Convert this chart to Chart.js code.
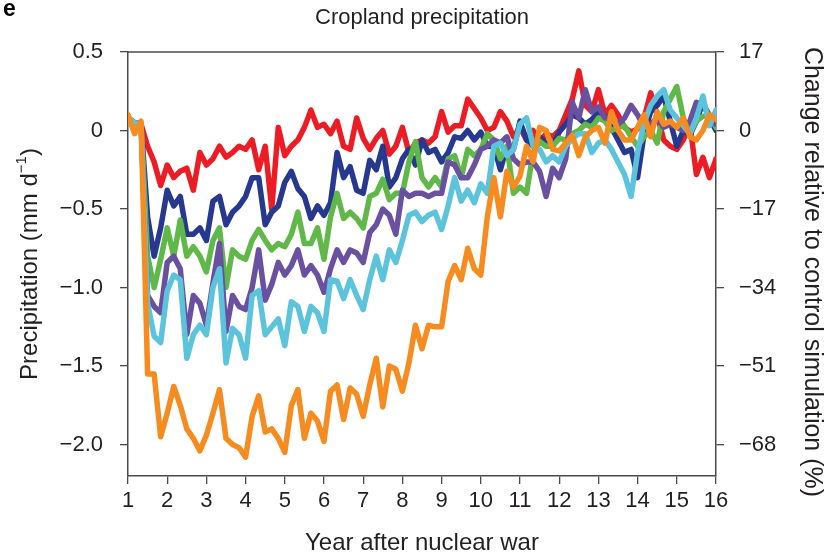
<!DOCTYPE html>
<html>
<head>
<meta charset="utf-8">
<script src="https://cdn.jsdelivr.net/npm/chart.js@4.4.1/dist/chart.umd.min.js"></script>
<style>
  html, body { margin: 0; padding: 0; background: #fff; }
  #wrap { width: 827px; height: 554px; }
</style>
</head>
<body>
<div id="wrap"><canvas id="precipChart" width="827" height="554"></canvas></div>
<script>
const FONT = "'Liberation Sans', Arial, Helvetica, sans-serif";
const INK = "#231f20";
const FRAME = "#4a4a4a";

// axis ticks
const yearTicks = [1, 2, 3, 4, 5, 6, 7, 8, 9, 10, 11, 12, 13, 14, 15, 16];
const precipTicks = [0.5, 0, -0.5, -1.0, -1.5, -2.0];
const precipTickLabels = ["0.5", "0", "\u22120.5", "\u22121.0", "\u22121.5", "\u22122.0"];
const changeTicks = [17, 0, -17, -34, -51, -68];
const changeTickLabels = ["17", "0", "\u221217", "\u221234", "\u221251", "\u221268"];

// series sampled every 2 months, starting at year 1 (mm/day anomaly)
const firstYear = 1;
const samplesPerYear = 6;

const red = [
  0.08, 0.05, 0.04, -0.10, -0.20, -0.35,
  -0.22, -0.30, -0.26, -0.24, -0.38, -0.14,
  -0.22, -0.18, -0.10, -0.17, -0.14, -0.10,
  -0.12, -0.06, -0.25, -0.10, -0.50, 0.02,
  -0.16, -0.10, -0.06, 0.02, 0.13, 0.02,
  0.04, -0.02, 0.06, -0.10, -0.12, 0.08,
  -0.05, -0.12, -0.05, 0.00, -0.15, -0.10,
  0.02, -0.14, -0.08, -0.06, -0.08, -0.04,
  0.12, -0.01, 0.03, 0.03, 0.20, 0.14,
  0.08, 0.00, 0.02, 0.12, 0.06, -0.04,
  0.02, -0.06, 0.00, -0.08, -0.02, -0.04,
  0.00, 0.10, 0.20, 0.38, 0.16, 0.12,
  0.26, 0.10, 0.16, 0.10, 0.02, -0.01,
  0.01, 0.08, 0.24, 0.10, -0.06, -0.10,
  -0.12, -0.06, 0.04, -0.28, -0.17, -0.30,
  -0.18
];

const blue = [
  0.08, 0.05, 0.04, -0.55, -0.80, -0.62,
  -0.38, -0.48, -0.42, -0.66, -0.66, -0.62,
  -0.70, -0.45, -0.42, -0.60, -0.52, -0.48,
  -0.42, -0.30, -0.30, -0.60, -0.52, -0.48,
  -0.33, -0.26, -0.37, -0.42, -0.56, -0.48,
  -0.54, -0.46, -0.14, -0.30, -0.23, -0.38,
  -0.40, -0.19, -0.25, -0.10, -0.36, -0.30,
  -0.18, -0.12, -0.22, -0.06, -0.14, -0.12,
  -0.20, -0.14, -0.04, -0.05, 0.00, -0.06,
  -0.01, -0.10, -0.10, -0.25, -0.10, -0.12,
  0.06, -0.06, -0.10, -0.04, -0.08, -0.10,
  -0.01, 0.04, 0.10, 0.08, 0.04, 0.07,
  0.12, 0.09, 0.02, -0.06, -0.14, -0.12,
  -0.30, -0.02, 0.12, 0.16, 0.22, 0.06,
  -0.10, 0.00, -0.03, 0.06, 0.18, 0.08,
  0.00
];

const green = [
  0.08, 0.05, 0.04, -0.80, -1.00, -0.82,
  -0.62, -0.80, -0.57, -0.80, -0.74, -0.80,
  -0.90, -0.70, -0.62, -1.00, -0.76, -0.80,
  -0.82, -0.70, -0.63, -0.70, -0.76, -0.72,
  -0.74, -0.66, -0.52, -0.72, -0.72, -0.62,
  -0.82, -0.55, -0.40, -0.56, -0.52, -0.56,
  -0.62, -0.42, -0.40, -0.31, -0.44, -0.40,
  -0.40, -0.20, -0.07, -0.30, -0.36, -0.30,
  -0.36, -0.18, -0.16, -0.30, -0.12, -0.16,
  -0.12, -0.02, -0.06, -0.18, -0.10, -0.40,
  -0.36, -0.40, -0.14, -0.07, -0.10, -0.10,
  -0.05, -0.06, -0.02, 0.00, 0.04, 0.02,
  0.08, 0.06, 0.00, 0.02, 0.03, -0.04,
  -0.10, -0.04, 0.00, -0.08, 0.12, 0.20,
  0.28, 0.08, -0.02, 0.06, 0.09, 0.10,
  0.02
];

const purple = [
  0.08, 0.05, 0.04, -1.05, -1.12, -1.16,
  -0.84, -0.80, -0.88, -1.30, -1.05, -1.10,
  -1.24, -0.97, -0.72, -1.28, -1.05, -1.12,
  -1.14, -1.00, -0.76, -1.08, -0.98, -0.84,
  -0.92, -0.86, -0.76, -0.92, -0.86, -0.92,
  -1.03, -0.88, -0.76, -0.84, -0.76, -0.78,
  -0.84, -0.65, -0.60, -0.50, -0.54, -0.66,
  -0.38, -0.42, -0.40, -0.40, -0.42, -0.40,
  -0.40, -0.20, -0.22, -0.30, -0.30, -0.22,
  -0.12, -0.10, -0.06, -0.08, -0.04, -0.18,
  -0.22, -0.20, -0.20, -0.26, -0.42, -0.24,
  -0.30, -0.18, 0.18, 0.08, 0.26, 0.12,
  0.15, 0.08, 0.08, 0.04, 0.08, 0.16,
  0.10, 0.02, 0.04, 0.08, 0.02, 0.04,
  0.02, 0.00, 0.06, 0.18, 0.16, 0.10,
  0.04
];

const cyan = [
  0.08, 0.05, 0.04, -1.10, -1.31, -1.35,
  -1.02, -0.92, -0.95, -1.45, -1.30, -1.24,
  -1.30, -1.00, -0.88, -1.48, -1.26, -1.30,
  -1.45, -1.05, -1.02, -1.30, -1.25, -1.20,
  -1.37, -1.09, -1.12, -1.28, -1.12, -1.16,
  -1.28, -0.95, -0.96, -1.07, -0.95, -1.05,
  -1.14, -0.95, -0.80, -0.95, -0.76, -0.84,
  -0.70, -0.54, -0.52, -0.58, -0.54, -0.52,
  -0.63, -0.48, -0.30, -0.45, -0.38, -0.46,
  -0.34, -0.40, -0.10, -0.08, -0.16, -0.12,
  0.04, 0.08, -0.10, -0.12, -0.20, -0.16,
  -0.20, -0.10, -0.05, -0.02, -0.02, -0.14,
  -0.08, -0.06, -0.12, -0.20, -0.28, -0.42,
  -0.14, 0.05, 0.16, 0.22, 0.26, 0.13,
  0.08, 0.03, -0.02, 0.08, 0.22, 0.03,
  0.13
];

const orange = [
  0.10, -0.02, 0.06, -1.55, -1.55, -1.95,
  -1.80, -1.63, -1.75, -1.90, -1.96, -2.04,
  -1.94, -1.80, -1.65, -1.96, -2.00, -2.02,
  -2.08, -1.82, -1.69, -1.92, -1.90, -1.96,
  -2.05, -1.75, -1.65, -1.96, -1.80, -1.85,
  -1.98, -1.66, -1.62, -1.84, -1.64, -1.68,
  -1.82, -1.62, -1.45, -1.76, -1.50, -1.52,
  -1.66, -1.48, -1.24, -1.39, -1.24, -1.25,
  -1.25, -0.96, -0.86, -0.95, -0.75, -0.88,
  -0.92, -0.55, -0.30, -0.55, -0.26, -0.36,
  -0.29, -0.10, -0.20, 0.02, 0.00, -0.12,
  -0.13, -0.08, -0.03, -0.16, -0.04, 0.00,
  0.02, -0.08, 0.12, 0.00, -0.06, -0.06,
  0.02, 0.10, -0.04, 0.12, 0.04, 0.06,
  0.02, 0.08, -0.04, -0.06, 0.00, 0.10,
  0.07
];

// control-relative scale: 0.5 mm/day <-> 17 %
const pctPerMm = 34;
const yMin = -2.2, yMax = 0.5;

function toPoints(vals) {
  return vals.map((v, i) => ({ x: firstYear + i / samplesPerYear, y: v }));
}

// higher "order" is painted first, so orange (order 0) ends up on top
function series(vals, color, order) {
  return { data: toPoints(vals), borderColor: color, backgroundColor: color, yAxisID: "y", order };
}

function setTicks(list) {
  return scale => { scale.ticks = list.map(v => ({ value: v })); };
}

// title, panel letter, axis titles and top frame line
const decorations = {
  id: "decorations",
  afterDraw(chart) {
    const ctx = chart.ctx;
    const a = chart.chartArea;
    ctx.save();

    ctx.strokeStyle = FRAME;
    ctx.lineWidth = 1.5;
    ctx.beginPath();
    ctx.moveTo(a.left, a.top);
    ctx.lineTo(a.right, a.top);
    ctx.stroke();

    ctx.fillStyle = "#000";
    ctx.font = "bold 23px " + FONT;
    ctx.textAlign = "left";
    ctx.textBaseline = "alphabetic";
    ctx.fillText("e", 3, 16);

    ctx.fillStyle = INK;
    ctx.font = "22px " + FONT;
    ctx.textAlign = "center";
    ctx.fillText("Cropland precipitation", (a.left + a.right) / 2, 24);

    ctx.font = "24px " + FONT;
    ctx.fillText("Year after nuclear war", (a.left + a.right) / 2, 550);

    // left title with superscript
    ctx.save();
    ctx.translate(30, (a.top + a.bottom) / 2);
    ctx.rotate(-Math.PI / 2);
    ctx.textAlign = "left";
    ctx.textBaseline = "middle";
    const parts = [
      { t: "Precipitation (mm d", f: "24px " + FONT, dy: 0 },
      { t: "\u22121", f: "15px " + FONT, dy: -8 },
      { t: ")", f: "24px " + FONT, dy: 0 }
    ];
    let total = 0;
    parts.forEach(p => { ctx.font = p.f; p.w = ctx.measureText(p.t).width; total += p.w; });
    let x = -total / 2;
    parts.forEach(p => { ctx.font = p.f; ctx.fillText(p.t, x, p.dy); x += p.w; });
    ctx.restore();

    // right title
    ctx.save();
    ctx.translate(812, 272);
    ctx.rotate(Math.PI / 2);
    ctx.textAlign = "center";
    ctx.textBaseline = "middle";
    ctx.font = "25px " + FONT;
    ctx.fillText("Change relative to control simulation (%)", 0, 0);
    ctx.restore();

    ctx.restore();
  }
};

const tickFont = { family: FONT, size: 22 };
const axisGrid = { display: true, drawOnChartArea: false, drawTicks: true, tickLength: 8, color: FRAME, lineWidth: 1.3 };
const axisBorder = { display: true, color: FRAME, width: 1.5 };

new Chart(document.getElementById("precipChart"), {
  type: "line",
  data: {
    datasets: [
      series(red, "#ec1c24", 5),
      series(blue, "#27388f", 4),
      series(green, "#60b848", 3),
      series(purple, "#6950a1", 2),
      series(cyan, "#5bc4dc", 1),
      series(orange, "#f68b1f", 0)
    ]
  },
  options: {
    responsive: false,
    animation: false,
    devicePixelRatio: 1,
    layout: { padding: { top: 52, left: 0, right: 0, bottom: 0 } },
    plugins: {
      legend: { display: false },
      title: { display: false },
      tooltip: { enabled: false }
    },
    elements: {
      point: { radius: 0 },
      line: { borderWidth: 5.5, tension: 0, borderJoinStyle: "round", borderCapStyle: "round" }
    },
    scales: {
      x: {
        type: "linear",
        position: "bottom",
        min: 1,
        max: 16,
        afterBuildTicks: setTicks(yearTicks),
        afterFit: s => { s.height = 78; },
        grid: axisGrid,
        border: axisBorder,
        ticks: { font: tickFont, color: INK, padding: 4, maxRotation: 0, autoSkip: false }
      },
      y: {
        type: "linear",
        position: "left",
        min: yMin,
        max: yMax,
        afterBuildTicks: setTicks(precipTicks),
        afterFit: s => { s.width = 128; },
        grid: axisGrid,
        border: axisBorder,
        ticks: {
          font: tickFont, color: INK, padding: 17, autoSkip: false,
          callback: v => precipTickLabels[precipTicks.indexOf(v)]
        }
      },
      y2: {
        type: "linear",
        position: "right",
        min: yMin * pctPerMm,
        max: yMax * pctPerMm,
        afterBuildTicks: setTicks(changeTicks),
        afterFit: s => { s.width = 111; },
        grid: axisGrid,
        border: axisBorder,
        ticks: {
          font: tickFont, color: INK, padding: 15, autoSkip: false,
          callback: v => changeTickLabels[changeTicks.indexOf(v)]
        }
      }
    }
  },
  plugins: [decorations]
});
</script>
</body>
</html>
